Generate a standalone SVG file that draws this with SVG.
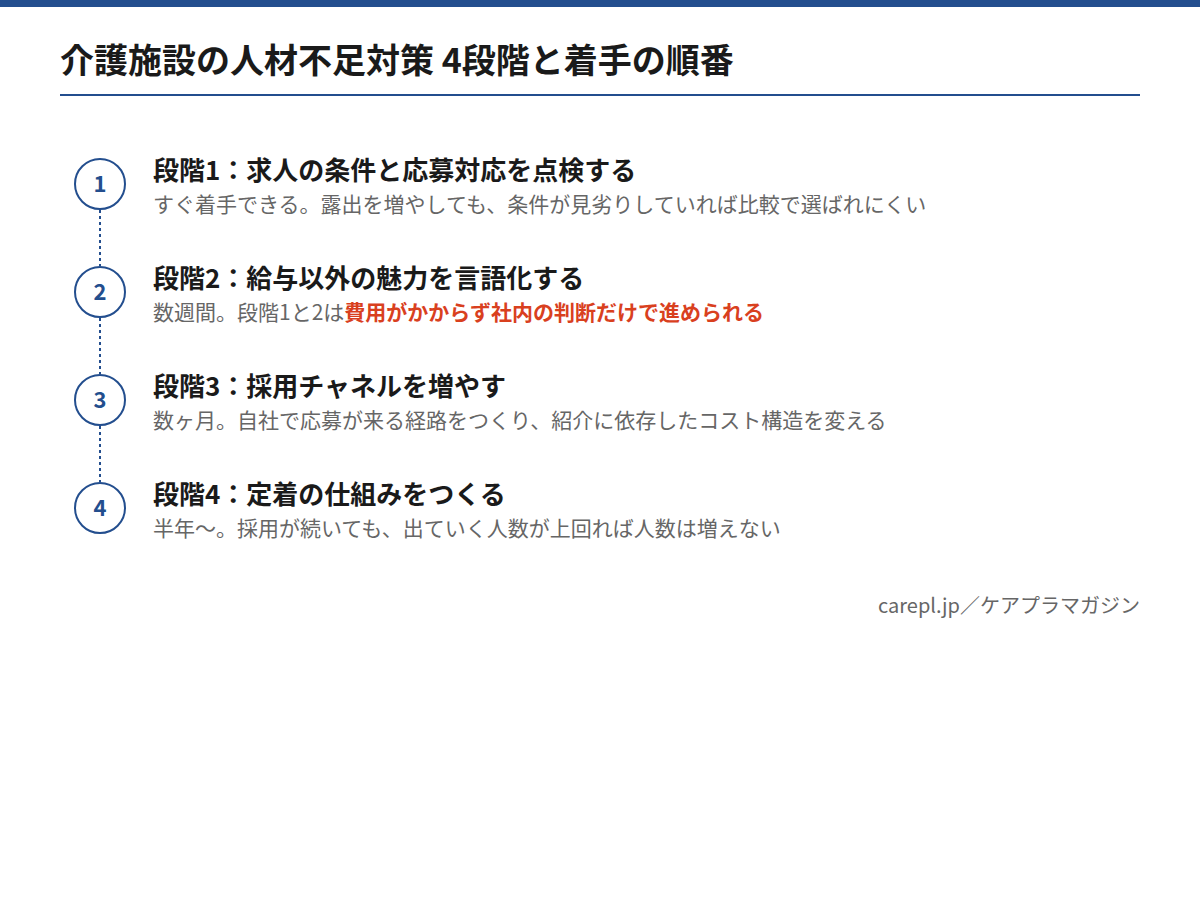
<svg xmlns="http://www.w3.org/2000/svg" width="1200" height="900" viewBox="0 0 1200 900">
<style>
text{font-family:"Noto Sans CJK JP","Noto Sans",sans-serif}
.title{font-size:34px;font-weight:700;fill:#1a1a1a}
.head{font-size:26px;font-weight:700;fill:#1a1a1a}
.sub{font-size:21px;fill:#666}
.foot{font-size:20px;fill:#666;text-anchor:end}
.red{fill:#d9401e;font-weight:700}
.num{font-size:22px;font-weight:700;fill:#234e8e;text-anchor:middle}
.circ{fill:#fff;stroke:#234e8e;stroke-width:2}
.conn{stroke:#234e8e;stroke-width:2;stroke-dasharray:3 3}
</style>
<rect x="0" y="0" width="1200" height="900" fill="#fff"/>
<rect x="0" y="0" width="1200" height="7" fill="#234e8e"/>
<text class="title" x="60" y="73">介護施設の人材不足対策 4段階と着手の順番</text>
<rect x="60" y="94" width="1080" height="2" fill="#234e8e"/>
<g id="connectors">
<line class="conn" x1="100" y1="210" x2="100" y2="266"/>
<line class="conn" x1="100" y1="318" x2="100" y2="374"/>
<line class="conn" x1="100" y1="426" x2="100" y2="482"/>
</g>
<g id="step1">
<circle class="circ" cx="100" cy="184" r="25"/>
<text class="num" x="100" y="192">1</text>
<text class="head" x="153" y="180">段階1：求人の条件と応募対応を点検する</text>
<text class="sub" x="153" y="212">すぐ着手できる。露出を増やしても、条件が見劣りしていれば比較で選ばれにくい</text>
</g>
<g id="step2">
<circle class="circ" cx="100" cy="292" r="25"/>
<text class="num" x="100" y="300">2</text>
<text class="head" x="153" y="288">段階2：給与以外の魅力を言語化する</text>
<text class="sub" x="153" y="320">数週間。段階1と2は<tspan class="red">費用がかからず社内の判断だけで進められる</tspan></text>
</g>
<g id="step3">
<circle class="circ" cx="100" cy="400" r="25"/>
<text class="num" x="100" y="408">3</text>
<text class="head" x="153" y="396">段階3：採用チャネルを増やす</text>
<text class="sub" x="153" y="428">数ヶ月。自社で応募が来る経路をつくり、紹介に依存したコスト構造を変える</text>
</g>
<g id="step4">
<circle class="circ" cx="100" cy="508" r="25"/>
<text class="num" x="100" y="516">4</text>
<text class="head" x="153" y="504">段階4：定着の仕組みをつくる</text>
<text class="sub" x="153" y="536">半年〜。採用が続いても、出ていく人数が上回れば人数は増えない</text>
</g>
<text class="foot" x="1140" y="613">carepl.jp／ケアプラマガジン</text>
</svg>
